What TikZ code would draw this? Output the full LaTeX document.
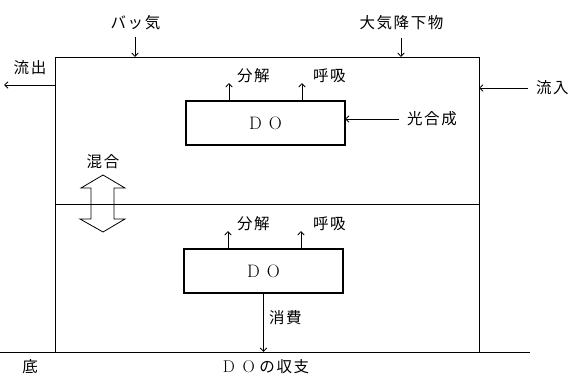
\documentclass[tikz,border=0pt]{standalone}
\usepackage{fontspec}
\newfontfamily\jp[LetterSpace=10]{Noto Sans CJK JP}
\usetikzlibrary{arrows.meta}
\begin{document}
\begin{tikzpicture}[x=1pt,y=-1pt,
  lbl/.style={font=\jp\fontsize{15.5}{16}\selectfont, inner sep=1pt},
  arr/.style={line width=0.8pt, -{Straight Barb[length=3.5pt,width=6.5pt]}},
  dobox/.style={draw, line width=1.2pt, inner sep=0pt, outer sep=0pt,
    minimum width=159pt, minimum height=44pt, font=\fontsize{18}{18}\selectfont},
  frameline/.style={line width=1pt},
  thinline/.style={line width=0.8pt}]
\useasboundingbox (0,0) rectangle (578,378);
% frame coordinates
\coordinate (TL) at (55,57);
\coordinate (TR) at (479,57);
\coordinate (BL) at (55,352);
\coordinate (BR) at (479,352);
\coordinate (ML) at (55,204);
\coordinate (MR) at (479,204);
\coordinate (G0) at (0,352);
\coordinate (G1) at (530,352);
% ground and frame
\draw[frameline] (G0) -- (G1);
\draw[frameline] (BL) -- (TL) -- (TR) -- (BR);
\draw[thinline] (ML) -- (MR);
% DO boxes
\node[dobox] (do1) at (265.5,123) {D\hspace{0.4em}O};
\node[dobox] (do2) at (263.5,271) {D\hspace{0.4em}O};
% upper layer arrows
\node[lbl, anchor=west] (bk1) at (236,76) {分解};
\coordinate (b1) at (229,83);
\draw[arr] (do1.north -| b1) -- (b1);
\node[lbl, anchor=west] (ky1) at (312,76) {呼吸};
\coordinate (r1) at (302,83);
\draw[arr] (do1.north -| r1) -- (r1);
\node[lbl, anchor=west] (kg) at (406,119) {光合成};
\draw[arr] ([xshift=-7pt]kg.west) -- (do1.east |- kg.west);
% lower layer arrows
\node[lbl, anchor=west] (bk2) at (236,224) {分解};
\coordinate (b2) at (228,231);
\draw[arr] (do2.north -| b2) -- (b2);
\node[lbl, anchor=west] (ky2) at (312,224) {呼吸};
\coordinate (r2) at (301,231);
\draw[arr] (do2.north -| r2) -- (r2);
\node[lbl, anchor=west] (sh) at (268,318) {消費};
\draw[arr] (do2.south) -- (do2.south |- G0);
% inputs from top
\node[lbl] (bakki) at (135.5,23) {バッ気};
\coordinate (bk) at (135,37);
\draw[arr] (bk) -- (bk |- TL);
\node[lbl] (taiki) at (401.5,23) {大気降下物};
\coordinate (tk) at (401,38);
\draw[arr] (tk) -- (tk |- TL);
% inflow / outflow
\node[lbl, anchor=west] (in) at (535,88) {流入};
\draw[arr] ([xshift=-7pt]in.west) -- (in.west -| TR);
\node[lbl] (out) at (30,68) {流出};
\coordinate (o0) at (55,85);
\coordinate (o1) at (4,85);
\draw[arr] (o0) -- (o1);
% mixing
\node[lbl] (mix) at (103,162) {混合};
\draw[thinline] (103,175) -- (125,188) -- (114,188) -- (114,219) -- (125,219)
  -- (103,232) -- (80,219) -- (91,219) -- (91,188) -- (81,188) -- cycle;
% bottom labels
\node[lbl] (soko) at (30,367) {底};
\node[lbl] (title) at (266,367) {{\rmfamily\fontsize{17}{17}\selectfont D\hspace{0.45em}O}\hspace{0.3em}の収支};
\end{tikzpicture}
\end{document}
